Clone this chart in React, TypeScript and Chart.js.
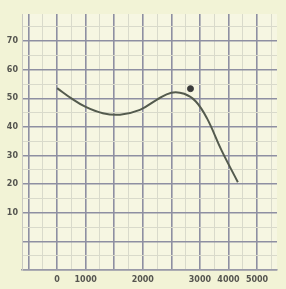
import React, { useEffect, useRef } from "react";
import { Chart, registerables } from "chart.js";

Chart.register(...registerables);

const curveX = [0, 0.5, 1.0, 1.6, 2.2, 2.9, 3.5, 4.0, 4.45, 4.85, 5.25, 5.75, 6.33];
const curveY = [53.6, 50.0, 47.0, 44.8, 44.3, 46.0, 49.6, 52.0, 51.6, 49.0, 43.0, 32.0, 20.7];
const markerX = [4.67];
const markerY = [53.4];
const xTickLabels: Record<number, string> = { 0: "0", 1: "1000", 3: "2000", 5: "3000", 6: "4000", 7: "5000" };
const yTickLabels = [10, 20, 30, 40, 50, 60, 70];

const bgPlugin = {
  id: "bg",
  beforeDraw(chart: any) {
    const { ctx, width, height } = chart;
    ctx.save();
    ctx.fillStyle = "#f2f3d6";
    ctx.fillRect(0, 0, width, height);
    const a = chart.chartArea;
    ctx.fillStyle = "#f6f6e2";
    ctx.fillRect(a.left, a.top, a.right - a.left, a.bottom - a.top);
    ctx.restore();
  },
};

export default function App() {
  const ref = useRef<HTMLCanvasElement>(null);
  useEffect(() => {
    const major = "#8e8fa2";
    const minor = "#d9dacb";
    const xTicks: number[] = [];
    for (let v = -1; v <= 7.5; v += 0.5) xTicks.push(v);
    const yTicks: number[] = [];
    for (let v = -10; v <= 75; v += 5) yTicks.push(v);
    const chart = new Chart(ref.current!, {
      type: "line",
      data: {
        datasets: [
          {
            data: curveX.map((x, i) => ({ x, y: curveY[i] })),
            borderColor: "#545b4e",
            borderWidth: 2,
            pointRadius: 0,
            tension: 0.4,
          },
          {
            data: markerX.map((x, i) => ({ x, y: markerY[i] })),
            borderColor: "#3a3a3a",
            backgroundColor: "#3a3a3a",
            pointRadius: 3,
            showLine: false,
          },
        ],
      },
      options: {
        animation: false,
        responsive: false,
        maintainAspectRatio: false,
        layout: { padding: { top: 14, right: 9, left: 0, bottom: 0 } },
        plugins: { legend: { display: false }, tooltip: { enabled: false } },
        scales: {
          x: {
            type: "linear",
            min: -1.23,
            max: 7.7,
            afterBuildTicks: (axis: any) => {
              axis.ticks = xTicks.map((v) => ({ value: v }));
            },
            afterFit: (s: any) => {
              s.height = 19;
            },
            grid: {
              color: (c: any) => (Number.isInteger(c.tick?.value) ? major : minor),
              lineWidth: (c: any) => (Number.isInteger(c.tick?.value) ? 1.6 : 1),
              drawTicks: false,
            },
            border: { color: "#9a9aa8", width: 1.5 },
            ticks: {
              autoSkip: false,
              maxRotation: 0,
              padding: 5,
              color: "#555550",
              font: { family: "DejaVu Sans", size: 8, weight: "bold" },
              callback: (v: any) => xTickLabels[v as number] ?? "",
            },
          },
          y: {
            type: "linear",
            min: -10,
            max: 79.5,
            afterBuildTicks: (axis: any) => {
              axis.ticks = yTicks.map((v) => ({ value: v }));
            },
            afterFit: (s: any) => {
              s.width = 22;
            },
            grid: {
              color: (c: any) => (c.tick?.value % 10 === 0 ? major : minor),
              lineWidth: (c: any) => (c.tick?.value % 10 === 0 ? 1.6 : 1),
              drawTicks: false,
            },
            border: { color: "#c8c8c0", width: 1 },
            ticks: {
              autoSkip: false,
              padding: 4,
              color: "#555550",
              font: { family: "DejaVu Sans", size: 8, weight: "bold" },
              callback: (v: any) => (yTickLabels.includes(v as number) ? String(v) : ""),
            },
          },
        },
      },
      plugins: [bgPlugin],
    });
    return () => chart.destroy();
  }, []);
  return (
    <div style={{ position: "fixed", left: 0, top: 0, width: 286, height: 289 }}>
      <canvas ref={ref} width={286} height={289} style={{ display: "block" }} />
    </div>
  );
}
